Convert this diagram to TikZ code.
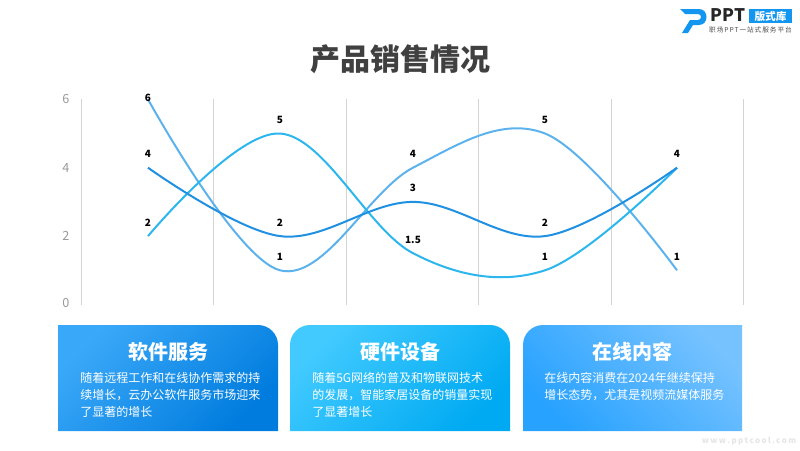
\documentclass[tikz,border=0pt]{standalone}
\usepackage{fontspec}
\setmainfont{Noto Sans CJK SC}
\usetikzlibrary{positioning}
\definecolor{darkline}{HTML}{1F90E2}
\definecolor{paleline}{HTML}{5CB2EC}
\definecolor{cyanline}{HTML}{2CB6EE}
\definecolor{gridgray}{HTML}{D4D4D4}
\definecolor{titlegray}{HTML}{404040}
\definecolor{axisgray}{HTML}{999999}
\definecolor{logoblue}{HTML}{1296F0}
\definecolor{softlight}{HTML}{3AA8F8}
\definecolor{softdark}{HTML}{007CDE}
\definecolor{hardlight}{HTML}{42CAFF}
\definecolor{harddark}{HTML}{00AAF2}
\definecolor{onlinelight}{HTML}{76C2FF}
\definecolor{onlinedark}{HTML}{28A2FF}
\tikzset{
    gridline/.style={draw=gridgray,line width=0.75pt},
    curve/.style={line width=1.5pt,line join=round},
    axislabel/.style={text=axisgray,font=\fontsize{9.5}{11}\selectfont,inner sep=0pt},
    datalabel/.style={font=\fontsize{7.5}{9}\bfseries\selectfont,inner sep=0pt},
    cardtitle/.style={text=white,font=\fontsize{15}{18}\bfseries\selectfont,inner sep=0pt},
    cardtext/.style={text=white,font=\fontsize{9}{12.8}\selectfont,align=left,inner sep=0pt,anchor=north west}
}
\begin{document}
\begin{tikzpicture}[x=0.75pt,y=-0.75pt]
\useasboundingbox (0,0) rectangle (800,450);

\node[text=titlegray,font=\fontsize{22.5}{26}\bfseries\selectfont] (title) at (400,59) {产品销售情况};

% grid
\foreach \gx/\gname in {81/a,213/b,346/c,478/d,611/e,743/f}{
    \coordinate (top\gname) at (\gx,99);
    \coordinate (bot\gname) at (\gx,305);
    \draw[gridline] (top\gname) -- (bot\gname);
}
\foreach \val/\vy in {0/303,2/236,4/168,6/99}{
    \node[axislabel] (axis\val) at (66,\vy) {\val};
}

% points of the three series
\foreach \i/\px/\vala/\valb/\valc in {1/148/4/6/2,2/280/2/1/5,3/413/3/4/1.5,4/545/2/5/1,5/677/4/1/4}{
    \coordinate (A\i) at (\px,{304.5-34.2*\vala});
    \coordinate (B\i) at (\px,{304.5-34.2*\valb});
    \coordinate (C\i) at (\px,{304.5-34.2*\valc});
}
\draw[curve,draw=paleline] plot[smooth,tension=0.6] coordinates {(B1) (B2) (B3) (B4) (B5)};
\draw[curve,draw=cyanline] plot[smooth,tension=0.6] coordinates {(C1) (C2) (C3) (C4) (C5)};
\draw[curve,draw=darkline] plot[smooth,tension=0.6] coordinates {(A1) (A2) (A3) (A4) (A5)};

\node[datalabel] (la1) at (148,154) {4};
\node[datalabel] (la2) at (280,223) {2};
\node[datalabel] (la3) at (413,188) {3};
\node[datalabel] (la4) at (545,223) {2};
\node[datalabel] (la5) at (677,154) {4};
\node[datalabel] (lb1) at (148,98) {6};
\node[datalabel] (lb2) at (280,257) {1};
\node[datalabel] (lb3) at (413,154) {4};
\node[datalabel] (lb4) at (545,120) {5};
\node[datalabel] (lb5) at (677,257) {1};
\node[datalabel] (lc1) at (148,223) {2};
\node[datalabel] (lc2) at (280,120) {5};
\node[datalabel] (lc3) at (413,240) {1.5};
\node[datalabel] (lc4) at (545,257) {1};

% cards
\shade[top color=softlight,bottom color=softdark,shading angle=45]
    (58,431) -- (58,325) [rounded corners=15pt] -- (278,325) [sharp corners] -- (278,431) -- cycle;
\shade[top color=hardlight,bottom color=harddark,shading angle=45]
    (290,431) [rounded corners=15pt] -- (290,325) -- (510,325) [sharp corners] -- (510,431) -- cycle;
\shade[top color=onlinelight,bottom color=onlinedark,shading angle=-45]
    (523,431) [rounded corners=15pt] -- (523,325) [sharp corners] -- (742,325) -- (742,431) -- cycle;

\node[cardtitle] (soft) at (168,352) {软件服务};
\node[cardtitle] (hard) at (400,352) {硬件设备};
\node[cardtitle] (online) at (632,352) {在线内容};
\node[cardtext] (softtext) at (80,372) {随着远程工作和在线协作需求的持\\续增长，云办公软件服务市场迎来\\了显著的增长};
\node[cardtext] (hardtext) at (312,372) {随着5G网络的普及和物联网技术\\的发展，智能家居设备的销量实现\\了显著增长};
\node[cardtext] (onlinetext) at (544,372) {在线内容消费在2024年继续保持\\增长态势，尤其是视频流媒体服务};

% logo
\fill[logoblue] (680,9) -- (699,9) .. controls (709,9) and (709,25) .. (699,25) -- (693,25) -- (688,33) -- (682,33) -- (690,20) -- (698,20) .. controls (702,20) and (702,14) .. (698,14) -- (685,14) -- cycle;
\node[font=\fontsize{13}{15}\bfseries\selectfont,text=black!85,inner sep=0pt] (brand) at (728,15.5) {PPT};
\node[fill=logoblue,text=white,font=\fontsize{8}{9}\bfseries\selectfont,inner sep=0pt,minimum width=32pt,minimum height=10.5pt] (badge) at (770.5,16) {版式库};
\node[font=\fontsize{5}{6}\addfontfeature{LetterSpace=14}\selectfont,text=black!70,inner sep=0pt] (slogan) at (750.5,29.5) {职场PPT一站式服务平台};
\node[font=\fontsize{6}{7}\bfseries\selectfont,text=black!10,inner sep=0pt] (mark) at (749,441) {w\kern1pt w\kern1pt w\kern1pt.\kern1pt p\kern1pt p\kern1pt t\kern1pt c\kern1pt o\kern1pt o\kern1pt l\kern1pt.\kern1pt c\kern1pt o\kern1pt m};
\end{tikzpicture}
\end{document}
